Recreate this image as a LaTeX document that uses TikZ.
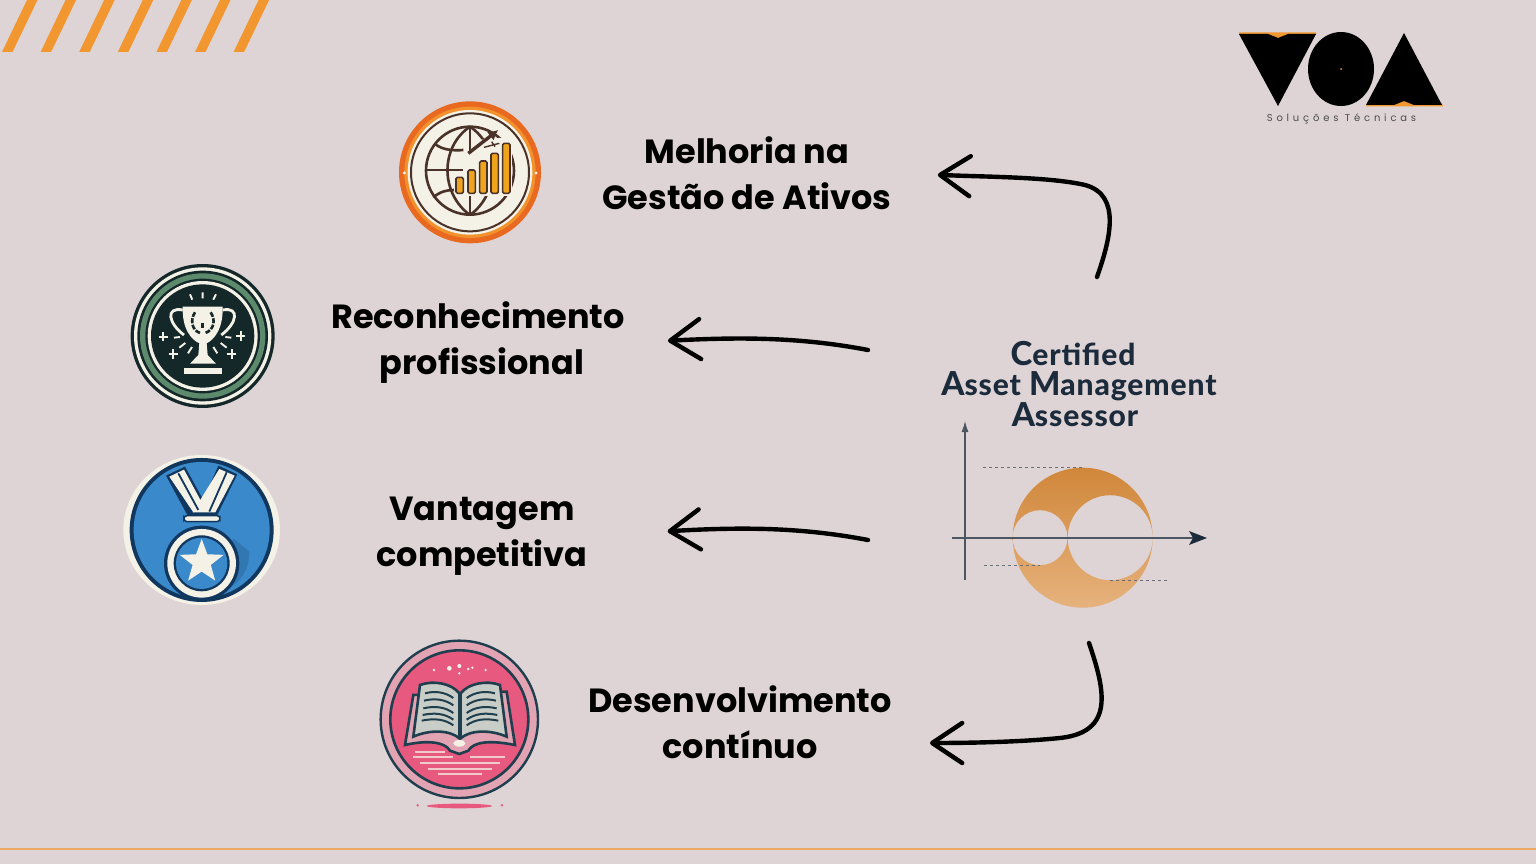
\documentclass[tikz,border=0pt]{standalone}
\usepackage{fontspec}
\setmainfont{Poppins}
\newfontfamily\titlefont[LetterSpace=3,BoldFont={Lato Heavy}]{Lato}
\newfontfamily\logofont[LetterSpace=38]{Poppins}
\usepackage{xcolor}
\usetikzlibrary{positioning, calc, shapes.geometric, arrows.meta}
\definecolor{paper}{HTML}{DED4D5}
\definecolor{stripe}{HTML}{F2962F}
\definecolor{navy}{HTML}{1B2B3C}
\definecolor{cream}{HTML}{F4F1E6}
\definecolor{fire}{HTML}{E8691F}
\definecolor{bark}{HTML}{4A3228}
\definecolor{amber}{HTML}{F0A41E}
\definecolor{pine}{HTML}{14282A}
\definecolor{sage}{HTML}{5D8A6C}
\definecolor{medal}{HTML}{3A8ACB}
\definecolor{ink}{HTML}{12375F}
\definecolor{rose}{HTML}{E8597F}
\definecolor{teal}{HTML}{1F3F4E}
\definecolor{copperA}{HTML}{D0873A}
\definecolor{copperB}{HTML}{E2A561}
\definecolor{copperC}{HTML}{E6B27D}
\tikzstyle{Arrow} = [
line width=4.4pt, line cap=round,
-{Straight Barb[length=30pt,width=40pt,line width=4.4pt,round]}]
\tikzstyle{Label} = [font=\fontsize{33.5}{46}\selectfont\bfseries, align=center, text=black, inner sep=0pt]
\tikzstyle{Zoomed} = [x=.3333pt, y=-.3333pt]
\newcommand{\capital}[1]{{\fontsize{33}{30.5}\selectfont #1}}

\begin{document}
\begin{tikzpicture}[x=1pt, y=-1pt]
    \fill[paper] (0,0) rectangle (1536,864);
    \useasboundingbox (0,0) rectangle (1536,864);

    \foreach \i in {0,...,6}
        \fill[stripe] ({2+38.6*\i},52) -- ({12.5+38.6*\i},52) -- ({37.5+38.6*\i},0) -- ({27+38.6*\i},0) -- cycle;
    \draw[stripe!70!paper, line width=1.6pt] (0,849) -- (1536,849);

    % logo
    \fill[stripe] (1239,32.5) -- (1316,32.5) -- (1316,35) -- (1278,40) -- (1239,35) -- cycle;
    \fill[black] (1239,34) -- (1268,34) -- (1278,38) -- (1288,34) -- (1316,34) -- (1278,106) -- cycle;
    \fill[black] (1341,69) ellipse (33 and 37);
    \fill[stripe] (1341,69) circle (1);
    \fill[stripe] (1366,106.5) -- (1443,106.5) -- (1442,103) -- (1404,99) -- (1367,103) -- cycle;
    \fill[black] (1404,33) -- (1442,105) -- (1414,105) -- (1404,101) -- (1394,105) -- (1366,105) -- cycle;
    \node (voa) [font=\logofont\fontsize{10}{12}\selectfont, text=black!70, inner sep=0pt] at (1341.5,118.5) {Soluções Técnicas};

    % globe
    \begin{scope}[shift={(380,90)}, Zoomed]
        \fill[fire] (270,247) circle (213);
        \fill[stripe!90!fire] (270,247) circle (197);
        \fill[cream] (270,247) circle (187);
        \draw[bark, line width=2pt] (270,247) circle (177);
        \fill[cream] (73,249) circle (5);
        \fill[cream] (468,249) circle (5);
        \begin{scope}[bark, line width=2.6pt]
            \draw (270,242) circle (132);
            \draw (270,110) .. controls (180,170) and (180,310) .. (270,375);
            \draw (270,110) .. controls (360,170) and (360,310) .. (270,375);
            \draw (270,110) -- (270,375);
            \draw (138,240) -- (250,240);
            \draw (165,162) .. controls (190,182) and (225,182) .. (250,180);
            \draw (160,322) .. controls (180,305) and (200,300) .. (222,300);
        \end{scope}
        \fill[cream] (255,195) rectangle (396,318);
        \fill[cream] (296,150) -- (396,140) -- (396,195) -- (255,200) -- cycle;
        \foreach \x/\y in {228/262, 264/240, 299/213, 333/190, 368/160}
            \draw[bark, fill=amber, line width=1.6pt, rounded corners=1.5pt] (\x,\y) rectangle ({\x+22},310);
        \draw[bark, line width=3.4pt, -{Latex[length=10pt,width=11pt]}] (265,190) -- (355,120);
        \draw[bark, line width=1.4pt] (312,172) -- (358,160) (335,155) -- (345,170);
    \end{scope}

    % trophy
    \begin{scope}[shift={(110,255)}, Zoomed]
        \fill[pine] (278,243) circle (216);
        \fill[cream] (278,243) circle (206);
        \fill[pine] (278,243) circle (196);
        \fill[sage] (278,243) circle (188);
        \fill[pine] (278,243) circle (172);
        \fill[cream] (278,243) circle (165);
        \fill[pine] (278,243) circle (155);
        \draw[cream, line width=2.8pt] (218,165) .. controls (165,155) and (175,205) .. (222,240);
        \draw[cream, line width=2.8pt] (338,165) .. controls (391,155) and (381,205) .. (334,240);
        \fill[cream] (218,155) -- (338,155) .. controls (340,225) and (310,255) .. (290,265)
            -- (293,300) -- (318,326) -- (240,326) -- (265,300) -- (268,265)
            .. controls (246,255) and (216,225) .. (218,155) -- cycle;
        \fill[cream] (222,338) rectangle (335,358);
        \begin{scope}[pine, line width=2.6pt, dash pattern=on 5pt off 1.5pt]
            \draw (255,172) .. controls (240,195) and (245,225) .. (270,234);
            \draw (302,172) .. controls (318,195) and (312,225) .. (286,234);
            \draw (278,205) -- (278,222);
        \end{scope}
        \foreach \x/\y in {160/245, 392/243, 190/297, 365/297} {
            \draw[cream, line width=2.3pt] ({\x-14},\y) -- ({\x+14},\y);
            \draw[cream, line width=2.3pt] (\x,{\y-14}) -- (\x,{\y+14});
        }
        \begin{scope}[cream, line width=1.9pt]
            \draw (278,112) -- (278,130) (240,118) -- (247,134) (318,118) -- (310,134);
            \draw (192,248) -- (210,246) (346,246) -- (364,248);
            \draw (208,278) -- (226,264) (350,278) -- (332,264);
            \draw (234,295) -- (246,276) (322,295) -- (310,276);
        \end{scope}

        % medal
        \fill[cream] (275,825) ellipse (235 and 225);
        \fill[ink] (275,825) circle (216);
        \fill[medal] (275,825) circle (204);
        \fill[medal!78!ink] (240,1028) .. controls (340,1030) and (420,980) .. (418,890) -- (370,850) -- (300,1000) -- cycle;
        \fill[ink] (168,662) -- (225,635) -- (280,735) -- (325,632) -- (382,658) -- (322,780) -- (232,780) -- cycle;
        \fill[cream] (178,665) -- (222,644) -- (282,755) -- (250,772) -- cycle;
        \fill[cream] (328,642) -- (374,662) -- (316,772) -- (248,772) -- cycle;
        \draw[ink, line width=1.8pt] (205,655) -- (265,765) (350,652) -- (298,770);
        \draw[ink, fill=cream, line width=1.5pt, rounded corners=3pt] (222,782) rectangle (330,800);
        \fill[ink] (275,925) circle (113);
        \fill[cream] (275,925) circle (103);
        \fill[ink] (275,925) circle (84);
        \fill[medal] (275,925) circle (77);
    \end{scope}
    \node (star) [star, star points=5, star point ratio=2.4, fill=cream, inner sep=0pt, minimum size=46pt] at (201.7,562) {};

    % book
    \begin{scope}[shift={(370,630)}, Zoomed]
        \draw[teal, line width=2.4pt, fill=paper!60!rose] (268,268) circle (236);
        \draw[teal, line width=2.6pt, fill=rose] (268,268) circle (207);
        \draw[teal, line width=2.6pt, fill=rose!40!paper] (105,345) -- (130,195) -- (410,185) -- (435,345)
            .. controls (360,330) and (310,335) .. (295,362) -- (268,372) -- (240,362)
            .. controls (225,335) and (170,330) .. (105,345) -- cycle;
        \draw[teal, line width=2.6pt, fill=cream!80!teal] (150,165) .. controls (190,150) and (245,160) .. (268,190)
            -- (268,325) .. controls (240,300) and (180,298) .. (130,320) -- cycle;
        \draw[teal, line width=2.6pt, fill=cream!80!teal] (390,165) .. controls (350,150) and (295,160) .. (272,190)
            -- (272,325) .. controls (300,300) and (360,298) .. (410,320) -- cycle;
        \foreach \y/\d in {190/0, 212/3, 235/5, 255/7, 272/10} {
            \draw[teal, line width=2pt] ({165-\d},\y) .. controls (195,{\y-8}) and (225,{\y-4}) .. (250,{\y+14});
            \draw[teal, line width=2pt] ({375+\d},\y) .. controls (345,{\y-8}) and (315,{\y-4}) .. (290,{\y+14});
        }
        \fill[cream] (268,340) ellipse (18 and 10);
        \foreach \x/\y/\r in {192/120/4, 238/115/7, 268/108/6, 268/130/4, 295/117/4, 307/113/4, 347/120/4}
            \fill[cream] (\x,\y) circle (\r);
        \foreach \a/\b/\y in {135/225/365, 130/250/382, 150/390/398, 175/365/417, 205/335/433}
            \draw[cream!75!rose, line width=1.9pt] (\a,\y) -- (\b,\y);
        \draw[cream!75!rose, line width=1.9pt] (300,382) -- (405,382);
        \fill[rose] (268,528) ellipse (98 and 7);
        \fill[rose] (143,526) circle (4);
        \fill[rose] (396,526) circle (4);
    \end{scope}

    % chart
    \shade[top color=copperA, middle color=copperB, bottom color=copperC, even odd rule]
        (1082.7,537.7) circle (70) (1040,537.7) circle (27.5) (1110.2,537.7) circle (42.5);
    \draw[navy!75!paper, line width=1.2pt, -{Latex[length=11pt,width=7pt]}] (965,580) -- (965,421);
    \draw[navy!75!paper, line width=1.2pt] (952,538) -- (1195,538);
    \fill[navy] (1189,531) -- (1207,538) -- (1189,545) -- (1193,538) -- cycle;
    \draw[navy!60!paper, dashed, line width=.9pt] (983,467.7) -- (1083,467.7);
    \draw[navy!60!paper, dashed, line width=.9pt] (984,565.5) -- (1040,565.5);
    \draw[navy!60!paper, dashed, line width=.9pt] (1110,580.3) -- (1167,580.3);

    % texts
    \node (certified) [font=\titlefont\fontsize{30}{30.5}\selectfont\bfseries, text=navy, align=center, inner sep=0pt] at (1079,384)
        {\hspace*{-12pt}\capital{C}ertified\\\capital{A}sset \capital{M}anagement\\\hspace*{-8pt}\capital{A}ssessor};
    \node (melhoria) [Label] at (747,173) {Melhoria na\\Gestão de Ativos};
    \node (reconhecimento) [Label] at (480,343) {\hspace*{-4pt}Reconhecimento\\\hspace*{4pt}profissional};
    \node (vantagem) [Label] at (482,536) {Vantagem\\competitiva};
    \node (desenvolvimento) [Label] at (740,722) {Desenvolvimento\\contínuo};

    \coordinate (a1) at (1097,277);
    \coordinate (a2) at (868,350);
    \coordinate (a3) at (868,540);
    \coordinate (a4) at (1089,643);

    \draw[Arrow, shorten >=46pt] (a1) .. controls (1110,240) and (1122,195) .. (1085,185) .. controls (1050,177) and (990,177) .. (melhoria.east);
    \draw[Arrow, shorten >=43pt] (a2) .. controls (800,337) and (740,337) .. (reconhecimento.east);
    \draw[Arrow, shorten >=80pt] (a3) .. controls (800,527) and (740,527) .. (vantagem.east);
    \draw[Arrow, shorten >=38pt] (a4) .. controls (1105,690) and (1115,732) .. (1060,738) .. controls (1020,742) and (970,743) .. ($(desenvolvimento.east)+(0,21)$);
\end{tikzpicture}
\end{document}
